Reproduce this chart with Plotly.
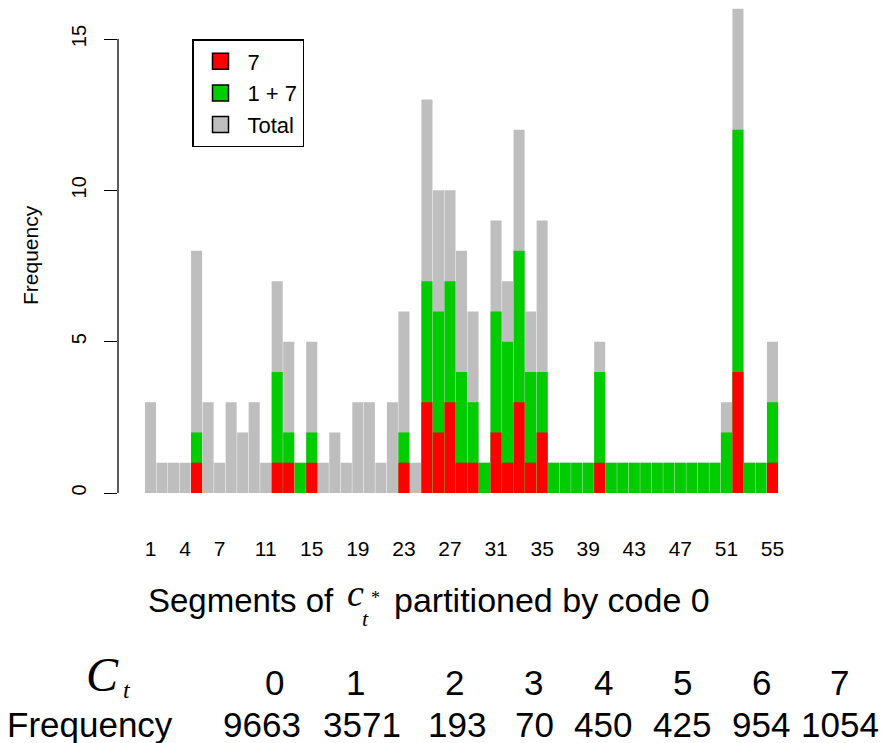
import plotly.graph_objects as go

# ---------------- data ----------------
segments = list(range(1, 56))
total = [3, 1, 1, 1, 8, 3, 1, 3, 2, 3, 1, 7, 5, 1, 5, 1, 2, 1, 3, 3,
         1, 3, 6, 1, 13, 10, 10, 8, 6, 1, 9, 7, 12, 6, 9, 1, 1, 1, 1, 5,
         1, 1, 1, 1, 1, 1, 1, 1, 1, 1, 3, 16, 1, 1, 5]
one_plus_seven = [0, 0, 0, 0, 2, 0, 0, 0, 0, 0, 0, 4, 2, 1, 2, 0, 0, 0, 0, 0,
                  0, 0, 2, 0, 7, 6, 7, 4, 3, 1, 6, 5, 8, 4, 4, 1, 1, 1, 1, 4,
                  1, 1, 1, 1, 1, 1, 1, 1, 1, 1, 2, 12, 1, 1, 3]
seven = [0, 0, 0, 0, 1, 0, 0, 0, 0, 0, 0, 1, 1, 0, 1, 0, 0, 0, 0, 0,
         0, 0, 1, 0, 3, 2, 3, 1, 1, 0, 2, 1, 3, 1, 2, 0, 0, 0, 0, 1,
         0, 0, 0, 0, 0, 0, 0, 0, 0, 0, 0, 4, 0, 0, 1]
x_tick_labels = [1, 4, 7, 11, 15, 19, 23, 27, 31, 35, 39, 43, 47, 51, 55]
y_ticks = [0, 5, 10, 15]
ct_codes = ["0", "1", "2", "3", "4", "5", "6", "7"]
ct_freq = ["9663", "3571", "193", "70", "450", "425", "954", "1054"]

# ---------------- layout helpers ----------------
W, H = 882, 743
L, R, T, B = 118, 82, 0, 238
PW, PH = W - L - R, H - T - B


def px(x):
    return (x - L) / PW


def py(y):
    return (T + PH - y) / PH


FONT = "Liberation Sans, Arial, sans-serif"
SERIF = "Liberation Serif, Times New Roman, serif"

fig = go.Figure()
fig.add_trace(go.Bar(x=segments, y=total, marker=dict(color="#BEBEBE", line=dict(width=0)),
                     showlegend=False, hoverinfo="skip"))
fig.add_trace(go.Bar(x=segments, y=one_plus_seven, marker=dict(color="#00CC00", line=dict(width=0)),
                     showlegend=False, hoverinfo="skip"))
fig.add_trace(go.Bar(x=segments, y=seven, marker=dict(color="#FF0000", line=dict(width=0)),
                     showlegend=False, hoverinfo="skip"))

for name, col in [("7", "#FF0000"), ("1 + 7", "#00CC00"), ("Total", "#BEBEBE")]:
    fig.add_trace(go.Scatter(x=[None], y=[None], mode="markers", name=name,
                             marker=dict(symbol="square", size=16, color=col,
                                         line=dict(color="black", width=1.5))))

annotations = []
# y-axis title
annotations.append(dict(text="Frequency", x=px(30), y=py(255), xref="paper", yref="paper",
                        textangle=-90, showarrow=False, font=dict(size=21, family=FONT, color="black"),
                        xanchor="center", yanchor="middle"))
# x-axis title pieces
annotations.append(dict(text="Segments of", x=px(336), y=py(600), xref="paper", yref="paper",
                        showarrow=False, xanchor="right", yanchor="middle",
                        font=dict(size=33, family=FONT, color="black")))
annotations.append(dict(text="<i>c</i>", x=px(355), y=py(593), xref="paper", yref="paper",
                        showarrow=False, xanchor="center", yanchor="middle",
                        font=dict(size=38, family=SERIF, color="black")))
annotations.append(dict(text="<i>t</i>", x=px(365), y=py(618), xref="paper", yref="paper",
                        showarrow=False, xanchor="center", yanchor="middle",
                        font=dict(size=22, family=SERIF, color="black")))
annotations.append(dict(text="*", x=px(375), y=py(598), xref="paper", yref="paper",
                        showarrow=False, xanchor="center", yanchor="middle",
                        font=dict(size=18, family=SERIF, color="black")))
annotations.append(dict(text="partitioned by code 0", x=px(392), y=py(600), xref="paper", yref="paper",
                        showarrow=False, xanchor="left", yanchor="middle",
                        font=dict(size=34, family=FONT, color="black")))
# table
annotations.append(dict(text="<i>C</i>", x=px(102), y=py(674), xref="paper", yref="paper",
                        showarrow=False, xanchor="center", yanchor="middle",
                        font=dict(size=48, family=SERIF, color="black")))
annotations.append(dict(text="<i>t</i>", x=px(127), y=py(690), xref="paper", yref="paper",
                        showarrow=False, xanchor="center", yanchor="middle",
                        font=dict(size=24, family=SERIF, color="black")))
annotations.append(dict(text="Frequency", x=px(5), y=py(724), xref="paper", yref="paper",
                        showarrow=False, xanchor="left", yanchor="middle",
                        font=dict(size=35, family=FONT, color="black")))
code_x = [274, 355, 454, 533, 603, 682, 761, 839]
freq_x = [262, 362, 457, 534, 603, 682, 761, 840]
for c, f, cx, fx in zip(ct_codes, ct_freq, code_x, freq_x):
    annotations.append(dict(text=c, x=px(cx), y=py(683), xref="paper", yref="paper",
                            showarrow=False, xanchor="center", yanchor="middle",
                            font=dict(size=35, family=FONT, color="black")))
    annotations.append(dict(text=f, x=px(fx), y=py(724), xref="paper", yref="paper",
                            showarrow=False, xanchor="center", yanchor="middle",
                            font=dict(size=35, family=FONT, color="black")))

x_unit = (772.5 - 150.5) / 54
y_unit = (493 - 39) / 15

fig.update_layout(
    width=W, height=H,
    margin=dict(l=L, r=R, t=T, b=B, pad=0),
    paper_bgcolor="white", plot_bgcolor="white",
    barmode="overlay", bargap=0.04,
    font=dict(family=FONT, color="black"),
    xaxis=dict(range=[1 - (150.5 - L) / x_unit, 55 + (W - R - 772.5) / x_unit],
               tickmode="array", tickvals=x_tick_labels, ticktext=[str(v) for v in x_tick_labels],
               ticks="", showgrid=False, zeroline=False, showline=False,
               tickfont=dict(size=21, family=FONT, color="black"), ticklabelstandoff=29),
    yaxis=dict(range=[-(T + PH - 493) / y_unit, (493 - T) / y_unit],
               tickmode="array", tickvals=y_ticks, ticks="outside", ticklen=13, tickwidth=1.3,
               tickcolor="black", tickangle=-90, showgrid=False, zeroline=False, showline=False,
               tickfont=dict(size=20, family=FONT, color="black"), ticklabelstandoff=10),
    legend=dict(x=px(192), y=py(39), xanchor="left", yanchor="top", bgcolor="white",
                bordercolor="black", borderwidth=1.5, font=dict(size=22, family=FONT, color="black"),
                itemwidth=44, tracegroupgap=0),
    shapes=[dict(type="line", xref="paper", yref="y", x0=0, x1=0, y0=min(y_ticks), y1=max(y_ticks),
                 line=dict(color="black", width=1.3))],
    annotations=annotations,
)

fig.write_html("out.html")
